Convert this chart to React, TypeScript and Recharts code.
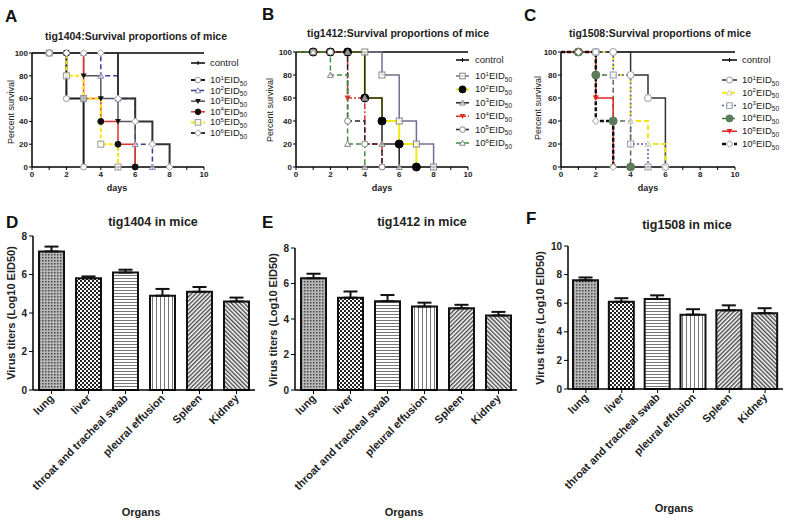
import React from "react";
import { LineChart, Line, XAxis, YAxis, BarChart, Bar, Cell, ErrorBar } from "recharts";

const FONT = '"Liberation Sans", Arial, Helvetica, sans-serif';

// ---- survival data (percent alive per day) ----
const days = [0, 1, 2, 3, 4, 5, 6, 7, 8, 9, 10];
const dayTicks = [0, 1, 2, 3, 4, 5, 6, 7, 8, 9, 10];
const survivalTicks = [0, 20, 40, 60, 80, 100];
const doseExponents = ["1", "2", "3", "4", "5", "6"];

const controlSurvival = [100, 100, 100, 100, 100, 100, 100, 100, 100, 100, 100];

const tig1404Dose1 = [100, 100, 60, 0];
const tig1404Dose2 = [100, 100, 100, 100, 80, 60, 20, 0];
const tig1404Dose3 = [100, 100, 100, 80, 60, 40, 0];
const tig1404Dose4 = [100, 100, 100, 60, 40, 20, 0];
const tig1404Dose5 = [100, 100, 80, 60, 20, 0];
const tig1404Dose6 = [100, 100, 100, 100, 100, 60, 40, 20, 0];

const tig1412Dose1 = [100, 100, 100, 100, 100, 80, 40, 20, 0];
const tig1412Dose2 = [100, 100, 100, 100, 60, 40, 20, 0];
const tig1412Dose3 = [100, 100, 100, 100, 60, 20, 0];
const tig1412Dose4 = [100, 100, 100, 60, 20, 0];
const tig1412Dose5 = [100, 100, 100, 40, 20, 0];
const tig1412Dose6 = [100, 100, 80, 20, 0];

const tig1508Dose1 = [100, 100, 100, 100, 80, 60, 0];
const tig1508Dose2 = [100, 100, 100, 80, 40, 20, 0];
const tig1508Dose3 = [100, 100, 100, 80, 20, 0];
const tig1508Dose4 = [100, 100, 80, 40, 0];
const tig1508Dose5 = [100, 100, 60, 0];
const tig1508Dose6 = [100, 100, 40, 0];

// ---- virus titer data ----
const organs = ["lung", "liver", "throat and tracheal swab", "pleural effusion", "Spleen", "Kidney"];
const tig1404Titer = [7.2, 5.8, 6.1, 4.9, 5.1, 4.6];
const tig1404Sd = [0.25, 0.1, 0.15, 0.35, 0.25, 0.2];
const tig1412Titer = [6.3, 5.2, 5.0, 4.7, 4.6, 4.2];
const tig1412Sd = [0.25, 0.35, 0.35, 0.22, 0.2, 0.2];
const tig1508Titer = [7.6, 6.1, 6.3, 5.2, 5.5, 5.3];
const tig1508Sd = [0.2, 0.25, 0.25, 0.38, 0.35, 0.35];

type Style = { color: string; dash?: string; width: number; marker: string; mFill?: string; mStroke?: string; r?: number };

const stylesA: Style[] = [
  { color: "#000", width: 1.5, marker: "none" },
  { color: "#1a1a1a", width: 2, marker: "circleOpen", mStroke: "#999" },
  { color: "#3b3b8f", dash: "5 3", width: 1.5, marker: "triOpen", mStroke: "#8888bb" },
  { color: "#555", width: 1.5, marker: "triDown", mFill: "#111" },
  { color: "#e8312a", width: 1.5, marker: "circleFill", mFill: "#111" },
  { color: "#f6e60a", dash: "4 2", width: 2, marker: "squareOpen", mStroke: "#999" },
  { color: "#333", width: 2, marker: "diamondOpen", mStroke: "#999" },
];
const stylesB: Style[] = [
  { color: "#000", width: 1.5, marker: "none" },
  { color: "#6f6f8f", width: 1.5, marker: "squareOpen", mStroke: "#888" },
  { color: "#f2ea10", width: 2, marker: "circleFill", mFill: "#000", r: 4 },
  { color: "#222", width: 1.5, marker: "triOpen", mStroke: "#888" },
  { color: "#d6322b", dash: "6 2 2 2", width: 1.5, marker: "triDown", mFill: "#d6322b" },
  { color: "#222", dash: "5 3", width: 1.5, marker: "circleOpen", mStroke: "#888" },
  { color: "#3f8f3f", dash: "5 3", width: 1.5, marker: "triOpen", mStroke: "#888" },
];
const stylesC: Style[] = [
  { color: "#000", width: 1.5, marker: "none" },
  { color: "#333", width: 1.5, marker: "circleOpen", mStroke: "#999", r: 3.5 },
  { color: "#f3e70c", dash: "5 3", width: 2, marker: "triOpen", mStroke: "#ccc" },
  { color: "#5b5ba8", dash: "2 2", width: 1.5, marker: "squareOpen", mStroke: "#99a" },
  { color: "#4f6f4f", dash: "5 3", width: 1.5, marker: "circleFill", mFill: "#5b7b5b", r: 4 },
  { color: "#e0261f", width: 1.5, marker: "triDown", mFill: "#e0261f" },
  { color: "#111", dash: "4 2", width: 2.5, marker: "diamondOpen", mStroke: "#999" },
];

const toRows = (series: number[][]) =>
  days.map((day, i) => {
    const row: Record<string, number | null> = { day };
    series.forEach((s, k) => {
      row[`s${k}`] = i < s.length ? s[i] : null;
    });
    return row;
  });

function Mark({ kind, x, y, fill, stroke, r = 3 }: { kind: string; x: number; y: number; fill?: string; stroke?: string; r?: number }) {
  const s = stroke || fill || "#000";
  if (kind === "circleOpen") return <circle cx={x} cy={y} r={r} fill="#fff" stroke={s} strokeWidth={1} />;
  if (kind === "circleFill") return <circle cx={x} cy={y} r={r} fill={fill} stroke={fill} />;
  if (kind === "triDown")
    return <polygon points={`${x - r},${y - r * 0.8} ${x + r},${y - r * 0.8} ${x},${y + r}`} fill={fill} />;
  if (kind === "triOpen")
    return <polygon points={`${x - r},${y + r * 0.8} ${x + r},${y + r * 0.8} ${x},${y - r}`} fill="#fff" fillOpacity={0.6} stroke={s} strokeWidth={1} />;
  if (kind === "squareOpen")
    return <rect x={x - r} y={y - r} width={r * 2} height={r * 2} fill="#fff" fillOpacity={0.7} stroke={s} strokeWidth={1} />;
  if (kind === "diamondOpen")
    return <polygon points={`${x},${y - r - 0.5} ${x + r + 0.5},${y} ${x},${y + r + 0.5} ${x - r - 0.5},${y}`} fill="#fff" stroke={s} strokeWidth={1} />;
  return null;
}

const makeDot = (st: Style) => (props: any) => {
  const { cx, cy, payload, index } = props;
  if (cx == null || cy == null || st.marker === "none" || !payload || payload.day === 0 || payload.value === null)
    return <g key={`d${index}`} />;
  return (
    <g key={`d${index}`}>
      <Mark kind={st.marker} x={cx} y={cy} fill={st.mFill} stroke={st.mStroke} r={st.r} />
    </g>
  );
};

function SurvivalChart({ width, series, styles, margin }: { width: number; series: number[][]; styles: Style[]; margin: any }) {
  const rows = toRows(series);
  return (
    <LineChart width={width} height={200} data={rows} margin={margin}>
      <XAxis
        type="number"
        dataKey="day"
        domain={[0, 10]}
        ticks={dayTicks}
        interval={0}
        height={20}
        tickFormatter={(v) => (v % 2 === 0 ? String(v) : "")}
        tick={{ fontSize: 8, fontWeight: "bold", fill: "#222" }}
        axisLine={{ stroke: "#000", strokeWidth: 1.5 }}
        tickLine={{ stroke: "#000" }}
        tickSize={3}
        tickMargin={1}
      />
      <YAxis
        type="number"
        domain={[0, 100]}
        ticks={survivalTicks}
        width={30}
        tick={{ fontSize: 8, fontWeight: "bold", fill: "#222" }}
        axisLine={{ stroke: "#000", strokeWidth: 1.5 }}
        tickLine={{ stroke: "#000" }}
        tickSize={3}
        tickMargin={1}
      />
      {styles.map((st, k) => (
        <Line
          key={k}
          type="stepAfter"
          dataKey={`s${k}`}
          stroke={st.color}
          strokeWidth={st.width}
          strokeDasharray={st.dash}
          dot={makeDot(st)}
          activeDot={false}
          isAnimationActive={false}
        />
      ))}
    </LineChart>
  );
}

const patternKeys = ["lung", "liver", "throat", "pleural", "spleen", "kidney"];

function Patterns({ p }: { p: string }) {
  return (
    <defs>
      <pattern id={`${p}lung`} width={3} height={3} patternUnits="userSpaceOnUse">
        <rect width={3} height={3} fill="#b8b8b8" />
        <rect width={1.5} height={1.5} fill="#4a4a4a" />
      </pattern>
      <pattern id={`${p}liver`} width={4} height={4} patternUnits="userSpaceOnUse">
        <rect width={4} height={4} fill="#fff" />
        <rect width={2} height={2} fill="#222" />
        <rect x={2} y={2} width={2} height={2} fill="#222" />
      </pattern>
      <pattern id={`${p}throat`} width={4} height={3} patternUnits="userSpaceOnUse">
        <rect width={4} height={3} fill="#fff" />
        <rect width={4} height={1} fill="#777" />
      </pattern>
      <pattern id={`${p}pleural`} width={4} height={4} patternUnits="userSpaceOnUse">
        <rect width={4} height={4} fill="#fff" />
        <rect width={1} height={4} fill="#777" />
      </pattern>
      <pattern id={`${p}spleen`} width={3} height={3} patternUnits="userSpaceOnUse" patternTransform="rotate(45)">
        <rect width={3} height={3} fill="#fff" />
        <rect width={1.4} height={3} fill="#444" />
      </pattern>
      <pattern id={`${p}kidney`} width={3} height={3} patternUnits="userSpaceOnUse" patternTransform="rotate(-45)">
        <rect width={3} height={3} fill="#fff" />
        <rect width={1.4} height={3} fill="#444" />
      </pattern>
    </defs>
  );
}

const OrganTick = (props: any) => {
  const { x, y, payload } = props;
  const ax = x + 3;
  const ay = y + 3;
  return (
    <text
      x={ax}
      y={ay}
      transform={`rotate(-45 ${ax} ${ay})`}
      textAnchor="end"
      fontSize={11}
      fontWeight="bold"
      fill="#222"
    >
      {payload.value}
    </text>
  );
};

function TiterChart({ width, p, means, sds, yMax, yTicks, margin }: any) {
  const rows = organs.map((organ, i) => ({ organ, titer: means[i], err: [0, sds[i]] }));
  return (
    <BarChart width={width} height={320} data={rows} margin={margin} barSize={25}>
      <Patterns p={p} />
      <XAxis
        dataKey="organ"
        interval={0}
        height={110}
        tick={<OrganTick />}
        axisLine={{ stroke: "#000", strokeWidth: 1.5 }}
        tickLine={{ stroke: "#000" }}
        tickSize={4}
        tickMargin={2}
      />
      <YAxis
        type="number"
        domain={[0, yMax]}
        ticks={yTicks}
        width={30}
        tick={{ fontSize: 10, fontWeight: "bold", fill: "#222" }}
        axisLine={{ stroke: "#000", strokeWidth: 1.5 }}
        tickLine={{ stroke: "#000" }}
        tickSize={4}
        tickMargin={2}
      />
      <Bar dataKey="titer" stroke="#111" strokeWidth={2} isAnimationActive={false}>
        {rows.map((_, i) => (
          <Cell key={i} fill={`url(#${p}${patternKeys[i]})`} />
        ))}
        <ErrorBar dataKey="err" width={7} stroke="#111" strokeWidth={2} direction="y" isAnimationActive={false} />
      </Bar>
    </BarChart>
  );
}

function LegendBlock({ x0, x1, tx, yControl, yFirst, step, styles }: any) {
  return (
    <g fontSize={9.5} fill="#222">
      {styles.map((st: Style, k: number) => {
        const y = k === 0 ? yControl : yFirst + (k - 1) * step;
        const mx = (x0 + x1) / 2;
        return (
          <g key={k}>
            <line x1={x0} y1={y} x2={x1} y2={y} stroke={st.color} strokeWidth={st.width} strokeDasharray={st.dash} />
            {k === 0 ? (
              <line x1={mx} y1={y - 2} x2={mx} y2={y + 2} stroke="#000" />
            ) : (
              <Mark kind={st.marker} x={mx} y={y} fill={st.mFill} stroke={st.mStroke} r={st.r ? st.r - 0.5 : 2.8} />
            )}
            {k === 0 ? (
              <text x={tx} y={y + 3}>control</text>
            ) : (
              <text x={tx} y={y + 3}>
                10<tspan dy={-3.5} fontSize={6}>{doseExponents[k - 1]}</tspan>
                <tspan dy={3.5}>EID</tspan>
                <tspan dy={2.5} fontSize={6.5}>50</tspan>
              </text>
            )}
          </g>
        );
      })}
    </g>
  );
}

export default function App() {
  return (
    <div style={{ position: "absolute", left: 0, top: 0, width: 787, height: 520, background: "#fff", fontFamily: FONT, overflow: "hidden" }}>
      <div style={{ position: "absolute", left: 0, top: 0 }}>
        <SurvivalChart
          width={260}
          series={[controlSurvival, tig1404Dose1, tig1404Dose2, tig1404Dose3, tig1404Dose4, tig1404Dose5, tig1404Dose6]}
          styles={stylesA}
          margin={{ top: 53, right: 56, bottom: 13, left: 2 }}
        />
      </div>
      <div style={{ position: "absolute", left: 260, top: 0 }}>
        <SurvivalChart
          width={260}
          series={[controlSurvival, tig1412Dose1, tig1412Dose2, tig1412Dose3, tig1412Dose4, tig1412Dose5, tig1412Dose6]}
          styles={stylesB}
          margin={{ top: 52, right: 52, bottom: 13, left: 6 }}
        />
      </div>
      <div style={{ position: "absolute", left: 520, top: 0 }}>
        <SurvivalChart
          width={267}
          series={[controlSurvival, tig1508Dose1, tig1508Dose2, tig1508Dose3, tig1508Dose4, tig1508Dose5, tig1508Dose6]}
          styles={stylesC}
          margin={{ top: 52, right: 52, bottom: 13, left: 11 }}
        />
      </div>
      <div style={{ position: "absolute", left: 0, top: 200 }}>
        <TiterChart width={262} p="pd" means={tig1404Titer} sds={tig1404Sd} yMax={8} yTicks={[0, 2, 4, 6, 8]}
          margin={{ top: 36, right: 7, bottom: 20, left: 3 }} />
      </div>
      <div style={{ position: "absolute", left: 262, top: 200 }}>
        <TiterChart width={260} p="pe" means={tig1412Titer} sds={tig1412Sd} yMax={8} yTicks={[0, 2, 4, 6, 8]}
          margin={{ top: 48, right: 5, bottom: 20, left: 3 }} />
      </div>
      <div style={{ position: "absolute", left: 522, top: 200 }}>
        <TiterChart width={265} p="pf" means={tig1508Titer} sds={tig1508Sd} yMax={10} yTicks={[0, 2, 4, 6, 8, 10]}
          margin={{ top: 46, right: 4, bottom: 21, left: 16 }} />
      </div>

      <svg width={787} height={520} style={{ position: "absolute", left: 0, top: 0, pointerEvents: "none" }} fontFamily={FONT}>
        {/* panel letters */}
        <g fontSize={17} fontWeight="bold" fill="#111">
          <text x={5} y={22}>A</text>
          <text x={262} y={20}>B</text>
          <text x={524} y={21}>C</text>
          <text x={6} y={228}>D</text>
          <text x={262} y={228}>E</text>
          <text x={526} y={224}>F</text>
        </g>
        {/* survival titles */}
        <g fontSize={10.5} fontWeight="bold" fill="#222" textAnchor="middle">
          <text x={136} y={40}>tig1404:Survival proportions of mice</text>
          <text x={398} y={37}>tig1412:Survival proportions of mice</text>
          <text x={660} y={37}>tig1508:Survival proportions of mice</text>
        </g>
        <g fontSize={9} fill="#222" textAnchor="middle">
          <text x={14} y={112} transform="rotate(-90 14 112)">Percent survival</text>
          <text x={273} y={110} transform="rotate(-90 273 110)">Percent survival</text>
          <text x={541} y={108} transform="rotate(-90 541 108)">Percent survival</text>
          <text x={117} y={191} fontWeight="bold">days</text>
          <text x={382} y={191} fontWeight="bold">days</text>
          <text x={648} y={191} fontWeight="bold">days</text>
        </g>
        <LegendBlock x0={191} x1={205} tx={210} yControl={63} yFirst={80} step={10.6} styles={stylesA} />
        <LegendBlock x0={456} x1={469} tx={475} yControl={60} yFirst={76} step={13.4} styles={stylesB} />
        <LegendBlock x0={722} x1={737} tx={742} yControl={60} yFirst={80} step={12.8} styles={stylesC} />
        {/* titer titles */}
        <g fontSize={12.5} fontWeight="bold" fill="#222" textAnchor="middle">
          <text x={153} y={226}>tig1404 in mice</text>
          <text x={422} y={226}>tig1412 in mice</text>
          <text x={687} y={229}>tig1508 in mice</text>
        </g>
        <g fontSize={11} fontWeight="bold" fill="#222" textAnchor="middle">
          <text x={15} y={313} transform="rotate(-90 15 313)">Virus titers (Log10 EID50)</text>
          <text x={277} y={320} transform="rotate(-90 277 320)">Virus titers (Log10 EID50)</text>
          <text x={544} y={318} transform="rotate(-90 544 318)">Virus titers (Log10 EID50)</text>
          <text x={141} y={516}>Organs</text>
          <text x={404} y={516}>Organs</text>
          <text x={674} y={512}>Organs</text>
        </g>
      </svg>
    </div>
  );
}
